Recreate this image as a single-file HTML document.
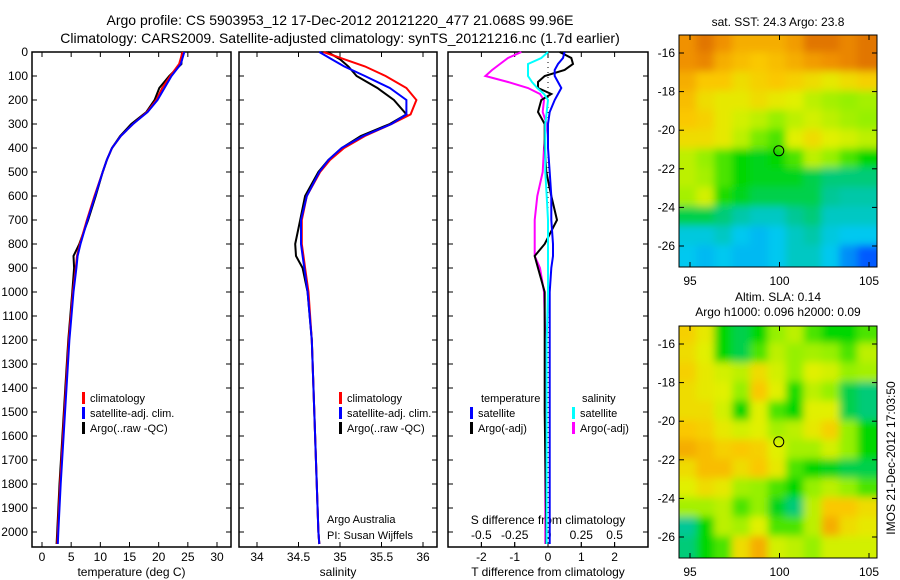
<!DOCTYPE html>
<html><head><meta charset="utf-8">
<style>
body{margin:0;background:#fff;width:900px;height:580px;overflow:hidden}
svg{display:block;font-family:"Liberation Sans",sans-serif;font-size:12px}
.lg{font-size:11px}
</style></head>
<body>
<svg id="c" width="900" height="580" xmlns="http://www.w3.org/2000/svg">
<defs>
<filter id="bl" x="-0.1" y="-0.1" width="1.2" height="1.2"><feGaussianBlur stdDeviation="4"/></filter>
<clipPath id="m1c"><rect x="679" y="35" width="198" height="232"/></clipPath>
<clipPath id="m2c"><rect x="679" y="326" width="198" height="232"/></clipPath>
</defs>
<text x="340" y="25" text-anchor="middle" font-size="14">Argo profile: CS 5903953_12 17-Dec-2012 20121220_477 21.068S 99.96E</text>
<text x="340" y="43" text-anchor="middle" font-size="14">Climatology: CARS2009. Satellite-adjusted climatology: synTS_20121216.nc (1.7d earlier)</text>
<g id="g"></g>
</svg>
<script>
// ---- data ----
const depthsT = [0,50,100,150,200,250,300,350,400,450,500,600,700,800,850,900,1000,1200,1400,1600,1800,2000,2050];
const tempClim = [24.1,23.5,22,20.6,19.6,18,15.6,13.5,12,11.1,10.4,9,7.7,6.5,6,5.8,5.3,4.6,4.1,3.6,3.1,2.7,2.6];
const tempSat  = [24.4,23.8,22.2,21,19.8,18.1,15.6,13.5,12,11.1,10.4,9.1,7.8,6.6,6.1,5.9,5.4,4.7,4.2,3.7,3.2,2.8,2.7];
const tempArgo = [24.0,23.9,21.8,20.1,19.3,17.9,15.3,13.4,12,11.1,10.4,9.2,7.9,6.4,5.4,5.5,5.2,4.5,4.0,3.5,3.0,2.6,2.5];
const depthsS = [0,30,60,100,150,200,260,300,350,400,450,500,600,700,800,850,900,1000,1200,1500,2000,2050];
const salClim = [34.8,35.05,35.3,35.55,35.8,35.92,35.85,35.62,35.3,35.05,34.88,34.76,34.6,34.54,34.54,34.56,34.58,34.62,34.66,34.69,34.74,34.75];
const salSat  = [34.75,34.9,35.05,35.3,35.6,35.8,35.8,35.62,35.28,35.02,34.86,34.75,34.6,34.53,34.53,34.55,34.57,34.61,34.66,34.69,34.74,34.75];
const salArgo = [34.85,35.0,35.1,35.2,35.45,35.65,35.8,35.6,35.25,35.02,34.86,34.74,34.58,34.52,34.46,34.47,34.55,34.61,34.66,34.69,34.74,34.75];
const depthsD = [0,25,50,75,100,125,150,175,200,250,300,400,500,600,700,800,850,900,1000,1200,1500,2000,2050];
const dTsat  = [0.5,0.45,0.3,0.2,0.2,0.3,0.4,0.3,0.2,0.05,0,0,0.05,0.1,0.1,0.15,0.15,0.1,0.05,0.05,0.05,0.05,0.05];
const dTargo = [0.35,0.7,0.75,0.5,-0.1,-0.3,-0.3,0.1,-0.2,-0.3,-0.1,-0.1,-0.05,0.1,0.27,-0.1,-0.4,-0.3,-0.1,-0.1,-0.1,-0.05,-0.05];
const dSsat  = [0,-0.05,-0.15,-0.15,-0.15,-0.12,-0.08,-0.03,0,-0.01,-0.02,-0.02,-0.02,-0.01,0,0,0,0,0,-0.01,-0.01,-0.01,-0.01];
const dSargo = [-0.2,-0.3,-0.36,-0.42,-0.47,-0.3,-0.15,-0.06,-0.03,-0.04,-0.01,-0.03,-0.04,-0.08,-0.1,-0.1,-0.1,-0.06,-0.03,-0.02,-0.02,-0.02,-0.02];
const depthTicks = [0,100,200,300,400,500,600,700,800,900,1000,1100,1200,1300,1400,1500,1600,1700,1800,1900,2000];
const tTicks = [0,5,10,15,20,25,30];
const sTicks = [34,34.5,35,35.5,36];
const sLabels = ["34","34.5","35","35.5","36"];
const dTTicks = [-2,-1,0,1,2];
const dSTicks = [-0.5,-0.25,0,0.25,0.5];
const dSLabels = ["-0.5","-0.25","0","0.25","0.5"];
const lonTicks = [95,100,105];
const latTicks = [-16,-18,-20,-22,-24,-26];
const sstGrid = [
[0.9,0.95,0.9,0.85,0.85,0.85,0.88,0.95,0.95,0.92,0.95],
[0.9,0.92,0.85,0.82,0.8,0.82,0.85,0.88,0.9,0.92,0.95],
[0.85,0.8,0.8,0.75,0.78,0.8,0.78,0.75,0.72,0.75,0.78],
[0.82,0.75,0.72,0.72,0.75,0.72,0.7,0.65,0.62,0.6,0.62],
[0.8,0.78,0.72,0.68,0.65,0.6,0.65,0.68,0.65,0.62,0.6],
[0.75,0.75,0.72,0.65,0.58,0.55,0.7,0.75,0.7,0.68,0.65],
[0.65,0.6,0.55,0.5,0.48,0.5,0.55,0.65,0.6,0.55,0.5],
[0.65,0.62,0.55,0.5,0.48,0.48,0.48,0.45,0.42,0.42,0.42],
[0.62,0.68,0.52,0.48,0.45,0.45,0.45,0.45,0.4,0.38,0.38],
[0.45,0.45,0.42,0.38,0.35,0.35,0.4,0.42,0.35,0.35,0.35],
[0.32,0.32,0.35,0.3,0.28,0.3,0.35,0.38,0.32,0.3,0.3],
[0.3,0.28,0.3,0.28,0.28,0.3,0.35,0.35,0.3,0.22,0.15]];
const slaGrid = [
[0.78,0.72,0.5,0.45,0.5,0.6,0.65,0.55,0.5,0.5,0.55],
[0.75,0.7,0.5,0.45,0.55,0.65,0.6,0.62,0.6,0.55,0.65],
[0.78,0.72,0.68,0.65,0.75,0.68,0.6,0.7,0.68,0.6,0.62],
[0.75,0.72,0.7,0.6,0.8,0.7,0.52,0.65,0.6,0.45,0.42],
[0.75,0.75,0.68,0.5,0.7,0.55,0.5,0.7,0.7,0.45,0.42],
[0.8,0.78,0.72,0.68,0.7,0.62,0.65,0.72,0.78,0.6,0.5],
[0.85,0.82,0.78,0.8,0.78,0.7,0.62,0.62,0.68,0.6,0.5],
[0.75,0.82,0.82,0.75,0.8,0.72,0.55,0.5,0.48,0.45,0.45],
[0.7,0.75,0.72,0.62,0.6,0.55,0.5,0.6,0.65,0.6,0.55],
[0.62,0.62,0.65,0.55,0.6,0.48,0.42,0.65,0.8,0.8,0.75],
[0.4,0.5,0.65,0.62,0.7,0.55,0.55,0.65,0.85,0.75,0.72],
[0.42,0.5,0.55,0.75,0.85,0.68,0.65,0.6,0.68,0.68,0.68]];
const argoLon = 99.96, argoLat = -21.068;

// ---- helpers ----
const NS="http://www.w3.org/2000/svg", G=document.getElementById('g');
function mk(t,a,p){const e=document.createElementNS(NS,t);for(const k in a)e.setAttribute(k,a[k]);(p||G).appendChild(e);return e;}
const TOP=52,BOT=547;
const yD=d=>TOP+d*0.24;
function lin(d0,p0,d1,p1){return v=>p0+(v-d0)*(p1-p0)/(d1-d0);}
const x1=lin(0,42,30,217), x2=lin(34,257,36,423), xT=lin(0,548,1,581.3), xS=lin(0,548,0.25,581.3);

function frame(x0,x1_,name){
  const r=mk('rect',{x:x0,y:TOP,width:x1_-x0,height:BOT-TOP,fill:'none',stroke:'#000','stroke-width':1.5});
  
  
}
function line(xs,ds,fx,col,name){
  const pts=xs.map((v,i)=>fx(v).toFixed(1)+','+yD(ds[i]).toFixed(1)).join(' ');
  const p=mk('polyline',{points:pts,fill:'none',stroke:col,'stroke-width':2});
  
  
}
function txt(x,y,s,anchor,name,extra){
  const t=mk('text',Object.assign({x:x,y:y,'text-anchor':anchor||'start'},extra||{}));
  t.textContent=s;
  
  
  return t;
}
function xTicks(vals,labels,fx,x0,x1_,title,name){
  vals.forEach((v,i)=>{const x=fx(v);
    mk('line',{x1:x,x2:x,y1:BOT,y2:BOT-5,stroke:'#000'});
    mk('line',{x1:x,x2:x,y1:TOP,y2:TOP+5,stroke:'#000'});
    txt(x,561,labels[i],'middle',name+'-tick-label');});
  txt((x0+x1_)/2,576,title,'middle',name+'-title');
}
function legend(x,y,items,name){
  items.forEach((it,i)=>{
    const r=mk('rect',{x:x,y:y+i*15-10,width:3,height:12,fill:it[0]});
    
    
    txt(x+8,y+i*15,it[1],'start',name+'-entry',{'class':'lg'});
  });
}

// ---- panel 1 ----
frame(32,231,'temperature-panel');
depthTicks.forEach(d=>{const y=yD(d);
  mk('line',{x1:32,x2:37,y1:y,y2:y,stroke:'#000'});mk('line',{x1:226,x2:231,y1:y,y2:y,stroke:'#000'});
  mk('line',{x1:239,x2:244,y1:y,y2:y,stroke:'#000'});mk('line',{x1:432,x2:437,y1:y,y2:y,stroke:'#000'});
  mk('line',{x1:448,x2:453,y1:y,y2:y,stroke:'#000'});mk('line',{x1:643,x2:648,y1:y,y2:y,stroke:'#000'});
  txt(28,y+4,String(d),'end','depth-tick-label');});
xTicks(tTicks,tTicks.map(String),x1,32,231,'temperature (deg C)','temperature-axis');
line(tempArgo,depthsT,x1,'#000','temp-argo-line');
line(tempClim,depthsT,x1,'#f00','temp-climatology-line');
line(tempSat,depthsT,x1,'#00f','temp-satellite-line');
legend(82,402,[['#f00','climatology'],['#00f','satellite-adj. clim.'],['#000','Argo(..raw -QC)']],'temp-legend');

// ---- panel 2 ----
frame(239,437,'salinity-panel');
xTicks(sTicks,sLabels,x2,239,437,'salinity','salinity-axis');
line(salArgo,depthsS,x2,'#000','sal-argo-line');
line(salClim,depthsS,x2,'#f00','sal-climatology-line');
line(salSat,depthsS,x2,'#00f','sal-satellite-line');
legend(339,402,[['#f00','climatology'],['#00f','satellite-adj. clim.'],['#000','Argo(..raw -QC)']],'sal-legend');
txt(327,523,'Argo Australia','start','argo-australia-label',{'class':'lg'});
txt(327,539,'PI: Susan Wijffels','start','pi-label',{'class':'lg'});

// ---- panel 3 ----
frame(448,648,'difference-panel');
mk('line',{x1:548,x2:548,y1:TOP,y2:BOT,stroke:'#000','stroke-dasharray':'1,4'});
xTicks(dTTicks,dTTicks.map(String),xT,448,648,'T difference from climatology','t-diff-axis');
dSTicks.forEach((v,i)=>{const x=xS(v);mk('line',{x1:x,x2:x,y1:BOT,y2:BOT-5,stroke:'#000'});
  txt(x,539,dSLabels[i],'middle','s-diff-tick-label');});
txt(548,524,'S difference from climatology','middle','s-diff-axis-title');
line(dSargo,depthsD,xS,'#f0f','s-diff-argo-line');
line(dTargo,depthsD,xT,'#000','t-diff-argo-line');
line(dTsat,depthsD,xT,'#00f','t-diff-satellite-line');
line(dSsat,depthsD,xS,'#0ff','s-diff-satellite-line');
txt(481,402,'temperature','start','t-diff-legend-heading',{'class':'lg'});
legend(470,417,[['#00f','satellite'],['#000','Argo(-adj)']],'t-diff-legend');
txt(582,402,'salinity','start','s-diff-legend-heading',{'class':'lg'});
legend(572,417,[['#0ff','satellite'],['#f0f','Argo(-adj)']],'s-diff-legend');

// ---- maps ----
const stops=[[0,[0,0,170]],[0.15,[0,90,255]],[0.3,[0,200,240]],[0.4,[0,200,150]],[0.5,[0,215,0]],[0.6,[150,240,0]],[0.7,[225,240,0]],[0.8,[250,200,0]],[0.9,[240,145,0]],[1,[210,90,0]]];
function cmap(v){for(let i=1;i<stops.length;i++){if(v<=stops[i][0]){const a=stops[i-1],b=stops[i],t=(v-a[0])/(b[0]-a[0]);
  return 'rgb('+a[1].map((c,k)=>Math.round(c+(b[1][k]-c)*t)).join(',')+')';}}return 'rgb(210,90,0)';}
function map(grid,top,clip,name){
  const lonX=lin(95,690,105,869), latY=lin(-16,top+18,-26,top+211);
  const gr=mk('g',{'clip-path':'url(#'+clip+')'});
  const gb=mk('g',{filter:'url(#bl)'},gr);
  const nr=grid.length, nc=grid[0].length;
  grid.forEach((row,r)=>row.forEach((v,c)=>{
    let x=lonX(94.4+c)-1,y=latY(-15-r)-1,w=lonX(1)-lonX(0)+2,h=latY(-1)-latY(0)+2;
    if(c===0){x-=15;w+=15;} if(c===nc-1){w+=15;}
    if(r===0){y-=15;h+=15;} if(r===nr-1){h+=15;}
    const cell=mk('rect',{x:x,y:y,width:w,height:h,fill:cmap(v)},gb);
    
    
  }));
  const fr=mk('rect',{x:679,y:top,width:198,height:232,fill:'none',stroke:'#000'});
  
  
  lonTicks.forEach(l=>{const x=lonX(l);mk('line',{x1:x,x2:x,y1:top+232,y2:top+227,stroke:'#000'});mk('line',{x1:x,x2:x,y1:top,y2:top+5,stroke:'#000'});
    txt(x,top+250,String(l),'middle',name+'-lon-label');});
  latTicks.forEach(l=>{const y=latY(l);mk('line',{x1:679,x2:684,y1:y,y2:y,stroke:'#000'});mk('line',{x1:872,x2:877,y1:y,y2:y,stroke:'#000'});
    txt(675,y+4,String(l),'end',name+'-lat-label');});
  const m=mk('circle',{cx:lonX(argoLon),cy:latY(argoLat),r:5,fill:'none',stroke:'#000'});
  
  
}
map(sstGrid,35,'m1c','sst-map');
map(slaGrid,326,'m2c','sla-map');
txt(778,26,'sat. SST: 24.3 Argo: 23.8','middle','sst-map-title');
txt(778,301,'Altim. SLA: 0.14','middle','sla-map-title');
txt(778,316,'Argo h1000: 0.096 h2000: 0.09','middle','sla-map-subtitle');
txt(0,0,'IMOS 21-Dec-2012 17:03:50','middle','imos-timestamp',{transform:'translate(895,458) rotate(-90)'});
</script>
</body></html>
